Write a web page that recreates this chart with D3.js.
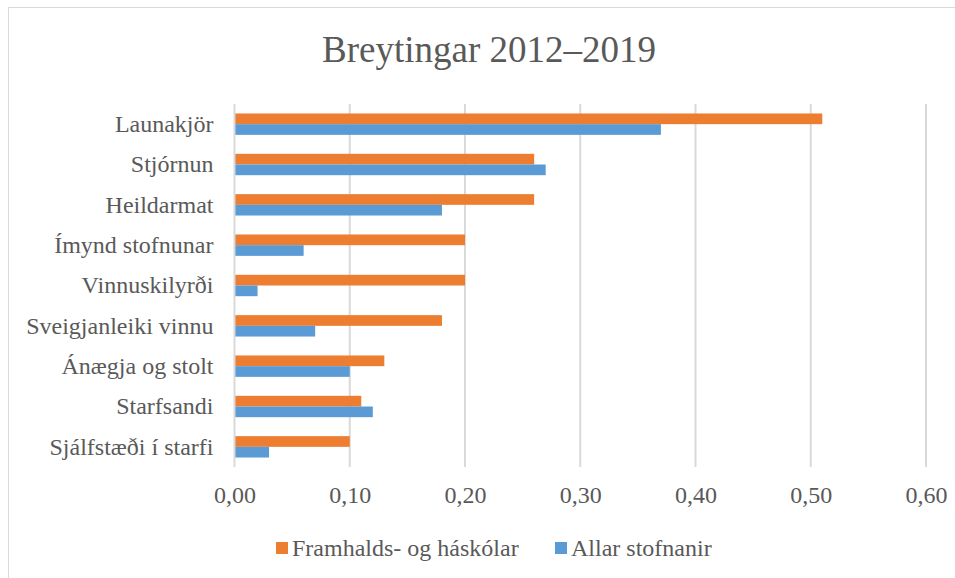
<!DOCTYPE html>
<html>
<head>
<meta charset="utf-8">
<script src="https://cdn.jsdelivr.net/npm/d3@7"></script>
<style>
  body { margin: 0; background: #fff; }
</style>
</head>
<body>
<svg id="chart" width="955" height="578"></svg>
<script>
// --- Data ---
const categories = ["Launakjör", "Stjórnun", "Heildarmat", "Ímynd stofnunar", "Vinnuskilyrði",
  "Sveigjanleiki vinnu", "Ánægja og stolt", "Starfsandi", "Sjálfstæði í starfi"];
const seriesNames = ["Framhalds- og háskólar", "Allar stofnanir"];
const framhaldsValues = [0.51, 0.26, 0.26, 0.20, 0.20, 0.18, 0.13, 0.11, 0.10];
const allarValues = [0.37, 0.27, 0.18, 0.06, 0.02, 0.07, 0.10, 0.12, 0.03];
const xTicks = [0, 0.1, 0.2, 0.3, 0.4, 0.5, 0.6];
const colors = ["#ED7D31", "#5B9BD5"];

const FONT = "'Liberation Serif', 'Times New Roman', serif";
const TEXT = "#595959";

const svg = d3.select("#chart");
const margin = {left: 234.5, right: 29, top: 104, bottom: 111};
const width = 955, height = 578;

// chart border (right/bottom fall outside the picture)
svg.append("rect")
  .attr("x", 8.5).attr("y", 7.5)
  .attr("width", 960).attr("height", 590)
  .attr("fill", "none").attr("stroke", "#d9d9d9").attr("stroke-width", 1);

// --- Scales ---
const x = d3.scaleLinear().domain([0, 0.6]).range([margin.left, width - margin.right]);
const y = d3.scaleBand().domain(categories).range([margin.top, height - margin.bottom])
  .paddingInner(0.47).paddingOuter(0.235);
const ySub = d3.scaleBand().domain(seriesNames).range([0, y.bandwidth()]);

// --- Gridlines ---
svg.append("g").selectAll("line")
  .data(xTicks.slice(1))
  .enter().append("line")
  .attr("x1", d => x(d)).attr("x2", d => x(d))
  .attr("y1", margin.top).attr("y2", height - margin.bottom)
  .attr("stroke", "#d9d9d9").attr("stroke-width", 2);

// --- Bars ---
const rows = categories.map((c, i) => ({cat: c, vals: [framhaldsValues[i], allarValues[i]]}));
const groups = svg.append("g").selectAll("g")
  .data(rows).enter().append("g")
  .attr("transform", d => `translate(0,${y(d.cat)})`);

groups.selectAll("rect")
  .data(d => d.vals.map((v, j) => ({name: seriesNames[j], v, j})))
  .enter().append("rect")
  .attr("x", x(0))
  .attr("y", d => ySub(d.name))
  .attr("width", d => x(d.v) - x(0))
  .attr("height", ySub.bandwidth())
  .attr("fill", d => colors[d.j]);

// --- Vertical axis line ---
svg.append("line")
  .attr("x1", x(0)).attr("x2", x(0))
  .attr("y1", margin.top).attr("y2", height - margin.bottom)
  .attr("stroke", "#d9d9d9").attr("stroke-width", 2);

// --- Category labels ---
const yAxis = svg.append("g")
  .attr("transform", `translate(${x(0) - 21},0)`)
  .call(d3.axisLeft(y).tickSize(0).tickPadding(0));
yAxis.select(".domain").remove();
yAxis.selectAll("text")
  .style("font-family", FONT).style("font-size", "24px").style("fill", TEXT);

// --- X axis labels ---
const fmt = d => d3.format(".2f")(d).replace(".", ",");
const xAxis = svg.append("g")
  .attr("transform", `translate(0,${height - margin.bottom + 19})`)
  .call(d3.axisBottom(x).tickValues(xTicks).tickFormat(fmt).tickSize(0).tickPadding(0));
xAxis.select(".domain").remove();
xAxis.selectAll("text")
  .style("font-family", FONT).style("font-size", "24px").style("fill", TEXT);

// --- Title ---
svg.append("text")
  .attr("x", 489).attr("y", 62)
  .attr("text-anchor", "middle")
  .style("font-family", FONT).style("font-size", "37px").style("fill", TEXT)
  .text("Breytingar 2012–2019");

// --- Legend ---
const legendX = [276, 555];
const legend = svg.append("g").selectAll("g")
  .data(seriesNames).enter().append("g")
  .attr("transform", (d, i) => `translate(${legendX[i]},548)`);
legend.append("rect")
  .attr("x", 0).attr("y", -6).attr("width", 12).attr("height", 12)
  .attr("fill", (d, i) => colors[i]);
legend.append("text")
  .attr("x", 16).attr("y", 8)
  .style("font-family", FONT).style("font-size", "24px").style("fill", TEXT)
  .text(d => d);
</script>
</body>
</html>
